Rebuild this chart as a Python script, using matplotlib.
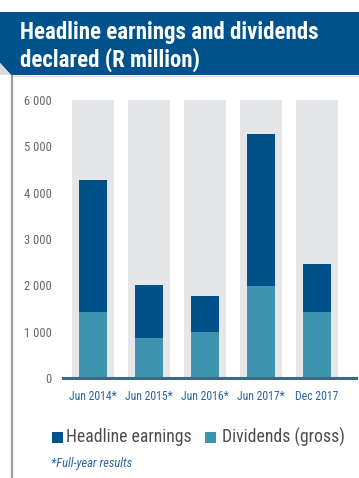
"""Headline earnings and dividends declared - stacked bar recreation."""

import matplotlib.pyplot as plt
from matplotlib.patches import Polygon, Rectangle
from matplotlib.lines import Line2D

# data (R million)
periods = ['Jun 2014*', 'Jun 2015*', 'Jun 2016*', 'Jun 2017*', 'Dec 2017']
headline_earnings = [4270, 2010, 1770, 5260, 2460]
dividends_gross = [1420, 870, 1000, 1990, 1420]
y_ticks = [0, 1000, 2000, 3000, 4000, 5000, 6000]
y_tick_labels = ['0', '1 000', '2 000', '3 000', '4 000', '5 000', '6 000']

DARK = '#00518a'
TEAL = '#3e93ae'
BG = '#e5e6e8'
LABEL_BLUE = '#2a64a0'
NARROW = ['Roboto Condensed', 'DejaVu Sans']

W, H = 359, 478
fig = plt.figure(figsize=(W / 100, H / 100), dpi=100)


def fx(px):
    return px / W


def fy(py):
    return 1 - py / H


# title band with cut lower-left corner
band = Polygon([(fx(0), fy(12)), (fx(359), fy(12)), (fx(359), fy(75)),
                (fx(11), fy(75)), (fx(0), fy(63))],
               closed=True, facecolor='#00528c', edgecolor='none',
               transform=fig.transFigure)
fig.patches.append(band)
fold = Polygon([(fx(0), fy(63)), (fx(11), fy(75)), (fx(0), fy(75))],
               closed=True, facecolor='#d8dadd', edgecolor='none',
               transform=fig.transFigure)
fig.patches.append(fold)
fig.lines.append(Line2D([fx(11), fx(359)], [fy(76), fy(76)], color='#dcdde0',
                        lw=0.8, transform=fig.transFigure))
fig.lines.append(Line2D([fx(11.5), fx(11.5)], [fy(76), fy(478)], color='#9a9ca0',
                        lw=1.6, transform=fig.transFigure))

fig.text(fx(20), fy(33), 'Headline earnings and dividends', color='white',
         fontsize=16.5, fontweight='bold', family=NARROW, va='center', ha='left')
fig.text(fx(20), fy(60), 'declared (R million)', color='white',
         fontsize=16.5, fontweight='bold', family=NARROW, va='center', ha='left')

# main axes
ax = fig.add_axes([fx(63), fy(378), fx(356) - fx(63), fy(100) - fy(378)])
x = list(range(len(periods)))
ax.bar(x, [6000] * len(x), width=0.75, color=BG, zorder=1)
ax.bar(x, headline_earnings, width=0.5, color=DARK, zorder=2)
ax.bar(x, dividends_gross, width=0.5, color=TEAL, zorder=3)

ax.set_xlim(-0.537, 4.70)
ax.set_ylim(0, 6000)
for s in ['top', 'right', 'left']:
    ax.spines[s].set_visible(False)
ax.spines['bottom'].set_color('#3b6b82')
ax.spines['bottom'].set_linewidth(2.2)
ax.spines['bottom'].set_zorder(5)

ax.set_yticks(y_ticks)
ax.set_yticklabels(y_tick_labels, family=NARROW, fontsize=9, color='#666666')
ax.tick_params(axis='y', length=0, pad=8)
ax.set_xticks(x)
ax.set_xticklabels(periods, family=NARROW, fontsize=8.5, color=LABEL_BLUE)
ax.tick_params(axis='x', length=0, pad=9)

# legend
fig.patches.append(Rectangle((fx(52), fy(443)), fx(11), 11 / H, facecolor=DARK,
                             edgecolor='none', transform=fig.transFigure))
fig.text(fx(66), fy(437), 'Headline earnings', fontsize=12.7, color='#4d4d4f',
         family=NARROW, va='center', ha='left')
fig.text(fx(222), fy(437), 'Dividends (gross)', fontsize=12.7, color='#4d4d4f',
         family=NARROW, va='center', ha='left')
fig.patches.append(Rectangle((fx(205), fy(443)), fx(11), 11 / H, facecolor=TEAL,
                             edgecolor='none', transform=fig.transFigure))

fig.text(fx(51), fy(463), '*Full-year results', fontsize=9, color=LABEL_BLUE,
         style='italic', family=NARROW, va='center', ha='left')

plt.savefig('out.png', dpi=100)
plt.close()
